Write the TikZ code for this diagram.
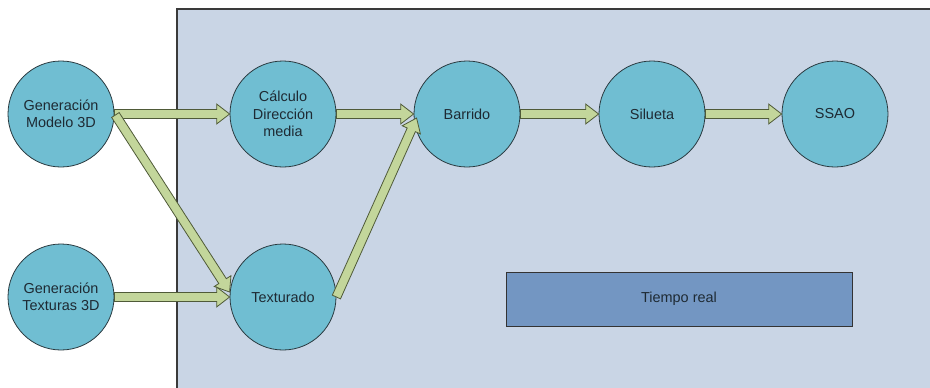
\documentclass[tikz,border=0pt]{standalone}
\usepackage{fontspec}
\setmainfont{Liberation Sans}
\usetikzlibrary{calc}
\definecolor{panelc}{HTML}{C9D5E5}
\definecolor{panell}{HTML}{3A3A3A}
\definecolor{circc}{HTML}{70BED2}
\definecolor{circl}{HTML}{2A3A40}
\definecolor{arrc}{HTML}{C3D69B}
\definecolor{arrl}{HTML}{4F5A38}
\definecolor{rectc}{HTML}{7396C2}
\definecolor{txtc}{HTML}{1E2A33}
\tikzset{
  stage/.style={circle, draw=circl, line width=0.8bp, fill=circc, minimum size=106bp, inner sep=0pt,
     align=center, text=txtc, font=\fontsize{14.5}{17.5}\selectfont},
  fatarr/.style={draw=arrl, fill=arrc, line width=0.8bp, line join=miter},
  rtbox/.style={draw=black!80, line width=1bp, fill=rectc, minimum width=346bp, minimum height=54bp,
     inner sep=0pt, text=txtc, font=\fontsize{14.5}{17.5}\selectfont}
}
\newcommand\fatarrow[2]{%
  \path let \p1=($(#2)-(#1)$), \n1={atan2(\y1,\x1)}, \n2={veclen(\x1,\y1)} in
    \pgfextra{\xdef\faang{\n1}\xdef\falen{\n2}};
  \draw[fatarr, shift={(#1)}, rotate=\faang]
    (0pt,-4.5pt) -- ({\falen-13pt},-4.5pt) -- ({\falen-13pt},-10pt) -- ({\falen},0pt)
    -- ({\falen-13pt},10pt) -- ({\falen-13pt},4.5pt) -- (0pt,4.5pt) -- cycle;
}
\begin{document}
\begin{tikzpicture}[x=1bp,y=-1bp]
  \useasboundingbox (0,0) rectangle (930,387);
  \fill[white] (0,0) rectangle (930,387);
  \fill[panelc] (177,9) rectangle (931,388);
  \draw[panell, line width=1.5bp] (177,388) -- (177,9) -- (931,9);

  \node[stage] (mod) at (61,114) {Generación\\Modelo 3D};
  \node[stage] (tx3) at (61,297) {Generación\\Texturas 3D};
  \node[stage] (cal) at (283,114) {Cálculo\\Dirección\\media};
  \node[stage] (tex) at (283,297) {Texturado};
  \node[stage] (bar) at (467,114) {Barrido};
  \node[stage] (sil) at (652,114) {Silueta};
  \node[stage] (ssa) at (835,114) {SSAO};

  \node[rtbox] (rt) at (679,299) {Tiempo real};

  \coordinate (modB) at ($(mod.east)+(1,1)$);
  \coordinate (texIn) at ($(tex.west)+(0,-5)$);
  \coordinate (barIn) at ($(bar.west)+(3,4)$);

  \fatarrow{mod.east}{cal.west}
  \fatarrow{modB}{texIn}
  \fatarrow{tx3.east}{tex.west}
  \fatarrow{cal.east}{bar.west}
  \fatarrow{tex.east}{barIn}
  \fatarrow{bar.east}{sil.west}
  \fatarrow{sil.east}{ssa.west}
\end{tikzpicture}
\end{document}
